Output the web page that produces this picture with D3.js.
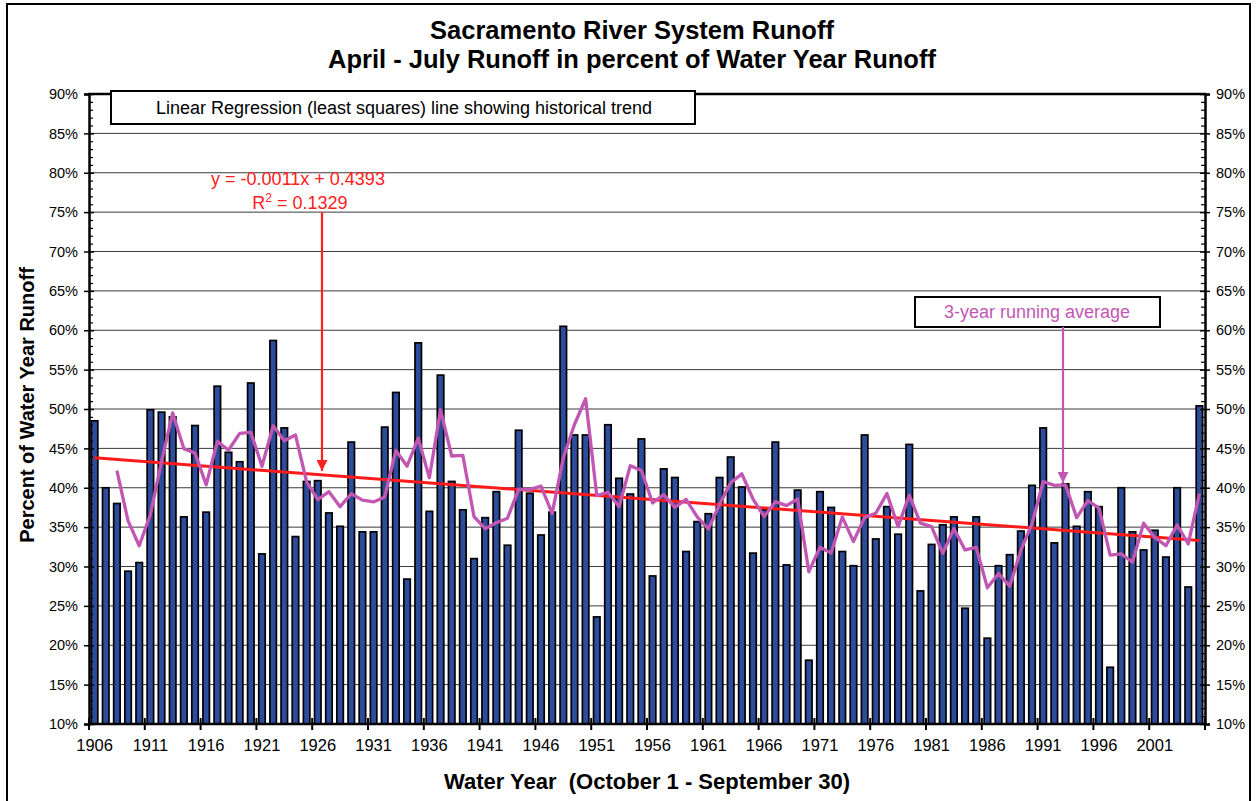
<!DOCTYPE html>
<html>
<head>
<meta charset="utf-8">
<script src="https://cdn.jsdelivr.net/npm/d3@7"></script>
<style>
  html, body { margin: 0; padding: 0; background: #fff; }
  svg { display: block; font-family: "Liberation Sans", Arial, sans-serif; }
</style>
</head>
<body>
<svg id="chart" width="1256" height="801"></svg>
<script>
// ---------------- data ----------------
const years = d3.range(1906, 2006);
const aprJulPct = [
  48.5, 40.0, 38.0, 29.4, 30.5, 49.9, 49.6, 49.0, 36.3, 47.9,   // 1906-1915
  36.9, 52.9, 44.5, 43.3, 53.3, 31.6, 58.7, 47.6, 33.8, 40.8,   // 1916-1925
  40.9, 36.8, 35.1, 45.8, 34.4, 34.4, 47.7, 52.1, 28.4, 58.4,   // 1926-1935
  37.0, 54.3, 40.8, 37.2, 31.0, 36.2, 39.5, 32.7, 47.3, 39.3,   // 1936-1945
  34.0, 36.9, 60.5, 46.7, 46.7, 23.6, 48.0, 41.2, 39.2, 46.2,   // 1946-1955
  28.8, 42.4, 41.3, 31.9, 35.7, 36.7, 41.3, 43.9, 40.1, 31.7,   // 1956-1965
  37.2, 45.8, 30.2, 39.7, 18.1, 39.5, 37.5, 31.9, 30.1, 46.7,   // 1966-1975
  33.5, 37.6, 34.1, 45.5, 26.9, 32.8, 35.3, 36.3, 24.7, 36.3,   // 1976-1985
  20.9, 30.1, 31.5, 34.5, 40.3, 47.6, 33.0, 40.5, 35.1, 39.5,   // 1986-1995
  37.6, 17.2, 40.0, 34.4, 32.1, 34.6, 31.2, 40.0, 27.4, 50.4    // 1996-2005
];
const yTickValues = [10, 15, 20, 25, 30, 35, 40, 45, 50, 55, 60, 65, 70, 75, 80, 85, 90];
const xLabelYears = d3.range(1906, 2006, 5);
const trendEndYears = [1906, 2005];
const trendEndValues = [43.8, 33.3];   // trend line ends
const trendLabel = "y = -0.0011x + 0.4393";
const trendR2 = "0.1329";
const titleLines = ["Sacramento River System Runoff", "April - July Runoff in percent of Water Year Runoff"];

// ---------------- layout ----------------
const W = 1256, H = 801;
const pLeft = 89, pRight = 1205, pTop = 94, pBottom = 724;
const svg = d3.select("#chart");

svg.append("rect").attr("x", 0).attr("y", 0).attr("width", W).attr("height", H).attr("fill", "#fff");
svg.append("rect").attr("x", 7).attr("y", 4).attr("width", 1243).attr("height", 830)
  .attr("fill", "none").attr("stroke", "#000").attr("stroke-width", 2);

const x = d3.scaleBand().domain(years).range([pLeft, pRight]).padding(0);
const y = d3.scaleLinear().domain([10, 90]).range([pBottom, pTop]);
const step = x.step();
const barW = step * 0.58;
const cx = yr => x(yr) + step / 2;

// gridlines
svg.append("g").selectAll("line")
  .data(yTickValues.filter(v => v > 10 && v < 90))
  .join("line")
  .attr("x1", pLeft).attr("x2", pRight)
  .attr("y1", d => y(d)).attr("y2", d => y(d))
  .attr("stroke", "#3a3a3a").attr("stroke-width", 1);

// bars
svg.append("g").selectAll("rect")
  .data(years.map((yr, i) => ({ yr, v: aprJulPct[i] })))
  .join("rect")
  .attr("x", d => cx(d.yr) - barW / 2)
  .attr("width", barW)
  .attr("y", d => y(d.v))
  .attr("height", d => y(10) - y(d.v))
  .attr("fill", "#2e4c9c")
  .attr("stroke", "#000")
  .attr("stroke-width", 1.7);

// trend line
svg.append("line")
  .attr("x1", cx(trendEndYears[0])).attr("y1", y(trendEndValues[0]))
  .attr("x2", cx(trendEndYears[1])).attr("y2", y(trendEndValues[1]))
  .attr("stroke", "#ff1a1a").attr("stroke-width", 3);

// 3-year running average of the bar values
const runAvg = years.map((yr, i) => ({ yr, v: i >= 2 ? d3.mean(aprJulPct.slice(i - 2, i + 1)) : null }))
  .filter(d => d.v !== null);
svg.append("path")
  .datum(runAvg)
  .attr("d", d3.line().x(d => cx(d.yr)).y(d => y(d.v)))
  .attr("fill", "none").attr("stroke", "#c257b3").attr("stroke-width", 3.3)
  .attr("stroke-linejoin", "round");

// axes frame
svg.append("line").attr("x1", pLeft - 1).attr("x2", pRight + 1).attr("y1", pTop).attr("y2", pTop)
  .attr("stroke", "#000").attr("stroke-width", 2.5);
svg.append("line").attr("x1", pLeft).attr("x2", pRight).attr("y1", pBottom).attr("y2", pBottom)
  .attr("stroke", "#000").attr("stroke-width", 2.5);

const minorVals = d3.range(10, 90.01, 1).filter(v => v % 5 !== 0);
function yAxis(xPos, side) {
  const g = svg.append("g").attr("transform", `translate(${xPos},0)`);
  const outer = side === "left" ? d3.axisLeft(y) : d3.axisRight(y);
  const inner = side === "left" ? d3.axisRight(y) : d3.axisLeft(y);
  g.append("g").call(outer.tickValues(yTickValues).tickSize(5).tickPadding(6).tickFormat(d => d + "%"))
    .call(s => s.select(".domain").attr("stroke-width", 2.5))
    .call(s => s.selectAll("line").attr("stroke-width", 1.5))
    .call(s => s.selectAll("text").attr("font-size", 14.5).attr("fill", "#000")
      .attr("font-family", "Liberation Sans, Arial, sans-serif"));
  g.append("g").call(inner.tickValues(yTickValues).tickSize(5).tickFormat(""))
    .call(s => s.select(".domain").remove())
    .call(s => s.selectAll("line").attr("stroke-width", 1.5));
  g.append("g").call(inner.tickValues(minorVals).tickSize(4).tickFormat(""))
    .call(s => s.select(".domain").remove())
    .call(s => s.selectAll("line").attr("stroke-width", 1.2));
}
yAxis(pLeft, "left");
yAxis(pRight, "right");

// x axis ticks (between categories every 5 years) + labels centered on categories
const xg = svg.append("g");
xg.selectAll("line").data(xLabelYears.concat([null])).join("line")
  .attr("x1", d => d === null ? pRight : x(d)).attr("x2", d => d === null ? pRight : x(d))
  .attr("y1", pBottom - 6).attr("y2", pBottom + 6)
  .attr("stroke", "#000").attr("stroke-width", 2);
svg.append("g").attr("transform", `translate(0,${pBottom})`)
  .call(d3.axisBottom(x).tickValues(xLabelYears).tickSize(0).tickPadding(15))
  .call(s => s.select(".domain").remove())
  .call(s => s.selectAll("text").attr("font-size", 16.5).attr("fill", "#000")
    .attr("font-family", "Liberation Sans, Arial, sans-serif"));

// titles
svg.append("g").selectAll("text").data(titleLines).join("text")
  .attr("x", 632).attr("y", (d, i) => 39 + i * 29)
  .attr("text-anchor", "middle").attr("font-weight", "bold").attr("font-size", 25.5)
  .text(d => d);

svg.append("text").attr("x", 647).attr("y", 789).attr("text-anchor", "middle")
  .attr("font-weight", "bold").attr("font-size", 22).style("white-space", "pre")
  .text("Water Year  (October 1 - September 30)");

svg.append("text").attr("transform", "translate(34,405) rotate(-90)")
  .attr("text-anchor", "middle").attr("font-weight", "bold").attr("font-size", 20)
  .text("Percent of Water Year Runoff");

// annotation box: linear regression
svg.append("rect").attr("x", 111).attr("y", 91).attr("width", 584).attr("height", 33)
  .attr("fill", "#fff").attr("stroke", "#000").attr("stroke-width", 2);
svg.append("text").attr("x", 404).attr("y", 114).attr("text-anchor", "middle").attr("font-size", 18)
  .text("Linear Regression (least squares) line showing historical trend");

// regression equation
const eq = svg.append("g").attr("fill", "#ff2020").attr("font-size", 18).attr("text-anchor", "middle");
eq.append("text").attr("x", 298).attr("y", 185).text(trendLabel);
const r2 = eq.append("text").attr("x", 300).attr("y", 209);
r2.append("tspan").text("R");
r2.append("tspan").attr("dy", -7).attr("font-size", 12).text("2");
r2.append("tspan").attr("dy", 7).text(` = ${trendR2}`);

// arrows
const defs = svg.append("defs");
function marker(id, color) {
  defs.append("marker").attr("id", id).attr("viewBox", "0 0 10 10").attr("refX", 10).attr("refY", 5)
    .attr("markerWidth", 5).attr("markerHeight", 5).attr("markerUnits", "strokeWidth").attr("orient", "auto")
    .append("path").attr("d", "M0,0 L10,5 L0,10 z").attr("fill", color);
}
marker("arrRed", "#ff2020");
marker("arrPurple", "#c257b3");
svg.append("line").attr("x1", 322).attr("y1", 212).attr("x2", 322).attr("y2", 471)
  .attr("stroke", "#ff2020").attr("stroke-width", 2.2).attr("marker-end", "url(#arrRed)");

// running average box
svg.append("rect").attr("x", 915).attr("y", 297).attr("width", 245).attr("height", 30)
  .attr("fill", "#fff").attr("stroke", "#000").attr("stroke-width", 2);
svg.append("text").attr("x", 1037).attr("y", 318).attr("text-anchor", "middle").attr("font-size", 18)
  .attr("fill", "#c257b3").text("3-year running average");
svg.append("line").attr("x1", 1063).attr("y1", 327).attr("x2", 1063).attr("y2", 483)
  .attr("stroke", "#c257b3").attr("stroke-width", 2.2).attr("marker-end", "url(#arrPurple)");
</script>
</body>
</html>
